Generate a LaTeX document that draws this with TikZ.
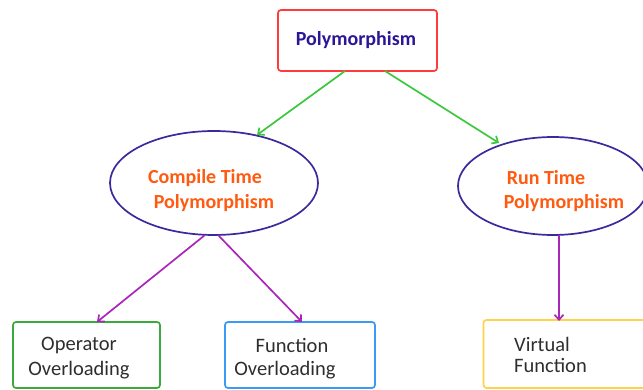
\documentclass[tikz,border=0pt]{standalone}
\usepackage{fontspec}
\setmainfont{Carlito}
\usetikzlibrary{arrows.meta,shapes.geometric}
\definecolor{titleblue}{HTML}{2A1696}
\definecolor{boxred}{HTML}{FF3B3B}
\definecolor{ellblue}{HTML}{3A2A9E}
\definecolor{ellorange}{HTML}{FF5A10}
\definecolor{lgreen}{HTML}{3CC83C}
\definecolor{lpurple}{HTML}{A826B8}
\definecolor{bgreen}{HTML}{3AAA3A}
\definecolor{bblue}{HTML}{3A9AF5}
\definecolor{byellow}{HTML}{FFD24A}
\definecolor{txtgray}{HTML}{2E2E2E}
\tikzset{
  rbox/.style={draw, line width=1.7pt, rounded corners=3pt, inner sep=0pt},
  ell/.style={draw=ellblue, line width=1.7pt, ellipse, inner sep=0pt},
  gline/.style={draw=lgreen, line width=1.7pt, -{Straight Barb[length=5pt,width=9pt]}},
  pline/.style={draw=lpurple, line width=1.7pt, -{Straight Barb[length=5pt,width=9pt]}},
  ltxt/.style={font=\fontsize{20.5}{25}\selectfont, text=txtgray},
  etxt/.style={font=\fontsize{20}{25}\selectfont\bfseries, text=ellorange}
}
\begin{document}
\begin{tikzpicture}[x=1pt,y=-1pt]
\useasboundingbox (0,0) rectangle (643,390);
% top box
\node[rbox, draw=boxred, minimum width=159pt, minimum height=61pt] (poly) at (357.5,40.5) {};
\node[font=\fontsize{20}{24}\selectfont\bfseries, text=titleblue] (polyt) at (356,40) {Polymorphism};
% ellipses
\node[ell, minimum width=208pt, minimum height=104pt] (ct) at (214,183) {};
\node[etxt] (ct1) at (205,178) {Compile Time};
\node[etxt] (ct2) at (214,203) {Polymorphism};
\node[ell, minimum width=190pt, minimum height=98pt] (rt) at (553,186) {};
\node[etxt] (rt1) at (546,178) {Run Time};
\node[etxt] (rt2) at (564,203) {Polymorphism};
% bottom boxes
\node[rbox, draw=bgreen, minimum width=147pt, minimum height=66pt] (op) at (86.5,355) {};
\node[ltxt] (op1) at (79,345) {Operator};
\node[ltxt] (op2) at (79,370) {Overloading};
\node[rbox, draw=bblue, minimum width=150pt, minimum height=66pt] (fo) at (300,355) {};
\node[ltxt] (fo1) at (292,345) {Function};
\node[ltxt] (fo2) at (285,370) {Overloading};
\node[rbox, draw=byellow, minimum width=165pt, minimum height=68pt] (vf) at (566,354) {};
\node[ltxt, anchor=west, inner sep=0pt] (vf1) at (514,344) {Virtual};
\node[ltxt, anchor=west, inner sep=0pt] (vf2) at (514,365) {Function};
% connectors
\coordinate (p1) at (345,71);
\coordinate (p2) at (385,71);
\coordinate (e1) at (257,135);
\coordinate (e2) at (499,143);
\draw[gline] (p1) -- (e1);
\draw[gline] (p2) -- (e2);
\coordinate (c1) at (205,235);
\coordinate (c2) at (218,235);
\coordinate (t1) at (97,322);
\coordinate (t2) at (302,322);
\coordinate (c3) at (559,235);
\coordinate (t3) at (559,321);
\draw[pline] (c1) -- (t1);
\draw[pline] (c2) -- (t2);
\draw[pline] (c3) -- (t3);
\end{tikzpicture}
\end{document}
